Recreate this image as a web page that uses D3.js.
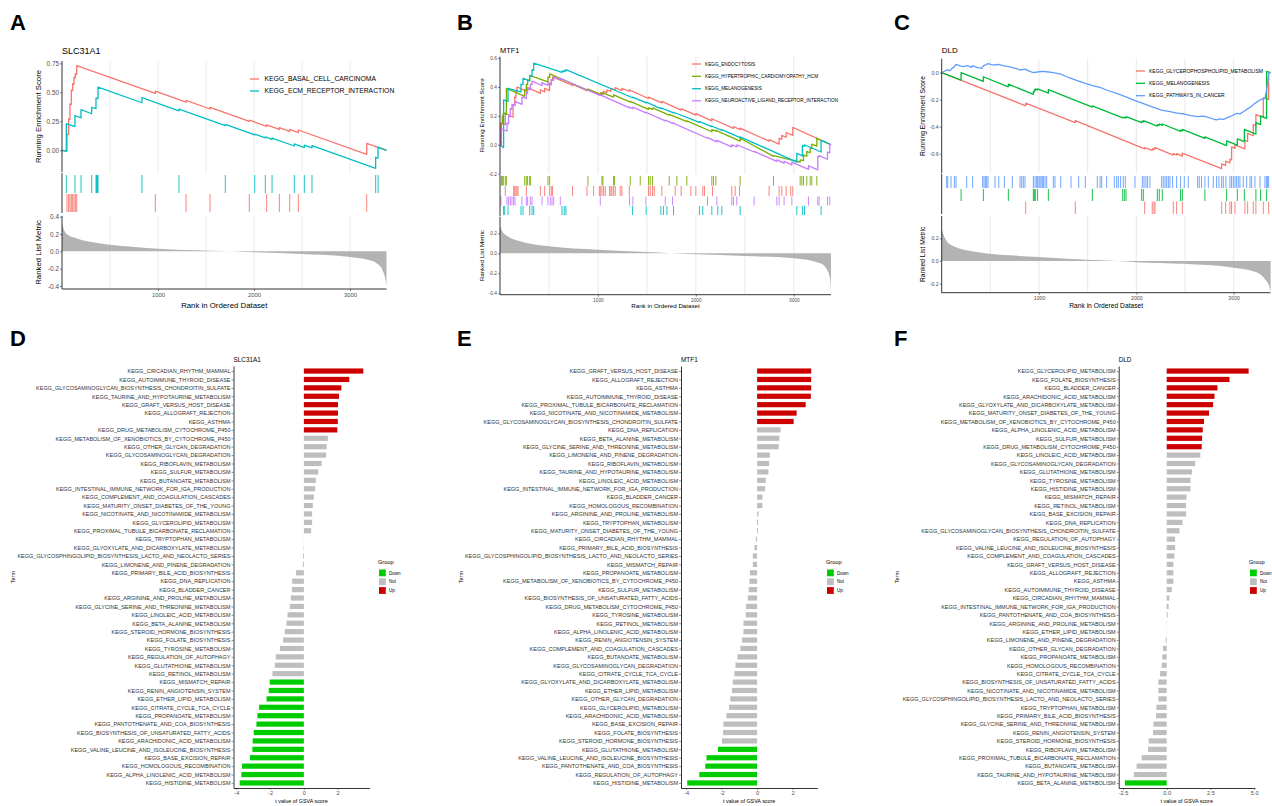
<!DOCTYPE html>
<html><head><meta charset="utf-8">
<script src="https://cdn.jsdelivr.net/npm/d3@7"></script>
<style>
body{margin:0;background:#fff;overflow:hidden}
svg{display:block}
text{font-family:"Liberation Sans",Arial,Helvetica,sans-serif}
</style></head>
<body><svg id="fig" width="1272" height="806"></svg>
<script>
// ===================== DATA =====================
const rankMax = 3380;
const rankTicks = [1000, 2000, 3000];
const gridRanks = [500, 1000, 1500, 2000, 2500, 3000];

// ---- Panel A (SLC31A1) ----
const geneA = "SLC31A1";
const setNamesA = ["KEGG_BASAL_CELL_CARCINOMA", "KEGG_ECM_RECEPTOR_INTERACTION"];
const esA_basal = [[0,0],[52,-0.005],[52,0.14],[69,0.135],[69,0.27],[83,0.265],[83,0.40],[97,0.395],[97,0.52],[111,0.515],[111,0.575],[125,0.57],[125,0.63],[139,0.625],[139,0.66],[153,0.655],[153,0.73],[972,0.49],[972,0.51],[1292,0.415],[1292,0.43],[1542,0.356],[1542,0.37],[1951,0.25],[1951,0.26],[2132,0.206],[2132,0.22],[2264,0.18],[2264,0.195],[2372,0.163],[2372,0.18],[2462,0.153],[2462,0.175],[3174,-0.035],[3174,0.06],[3380,0.0]];
const esA_ecm = [[0,0],[45,-0.01],[45,0.23],[135,0.205],[135,0.30],[198,0.28],[198,0.35],[309,0.315],[309,0.37],[354,0.36],[354,0.45],[375,0.445],[375,0.545],[833,0.41],[833,0.455],[1219,0.34],[1219,0.355],[1701,0.213],[1701,0.223],[2007,0.133],[2007,0.14],[2118,0.107],[2118,0.115],[2188,0.095],[2188,0.105],[2420,0.037],[2420,0.055],[2524,0.024],[2524,0.045],[2604,0.021],[2604,0.04],[3267,-0.155],[3267,-0.06],[3292,-0.067],[3292,0.028],[3380,0.0]];
const hitsA_basal = [52,69,83,97,111,125,139,153,972,1292,1542,1951,2132,2264,2372,2462,3174];
const hitsA_ecm = [45,135,198,309,354,360,365,370,375,833,1219,1701,2007,2118,2188,2420,2524,2604,3267,3292];
const metricA = [[1,0.32],[20,0.25],[50,0.2],[150,0.15],[400,0.09],[700,0.055],[1000,0.03],[1400,0.012],[1750,0.0],[2000,-0.01],[2500,-0.03],[3000,-0.065],[3175,-0.095],[3280,-0.14],[3340,-0.22],[3370,-0.33],[3380,-0.4]];
const esTicksA = [0, 0.25, 0.5, 0.75];
const metricTicksA = [-0.4, -0.2, 0, 0.2, 0.4];

// ---- Panel B (MTF1) ----
const geneB = "MTF1";
const setNamesB = ["KEGG_ENDOCYTOSIS", "KEGG_HYPERTROPHIC_CARDIOMYOPATHY_HCM", "KEGG_MELANOGENESIS", "KEGG_NEUROACTIVE_LIGAND_RECEPTOR_INTERACTION"];
const esB_endo = [[0,0],[10,0],[10,0.15],[54,0.14],[54,0.22],[133,0.19],[133,0.28],[150,0.275],[150,0.33],[163,0.325],[163,0.37],[173,0.365],[173,0.40],[269,0.37],[269,0.40],[412,0.355],[412,0.38],[456,0.365],[456,0.39],[507,0.375],[507,0.42],[524,0.415],[524,0.45],[537,0.445],[537,0.47],[741,0.41],[741,0.42],[888,0.375],[888,0.385],[1024,0.345],[1024,0.36],[1058,0.35],[1058,0.37],[1092,0.36],[1092,0.38],[1133,0.37],[1133,0.39],[1177,0.38],[1177,0.395],[1245,0.375],[1245,0.39],[1320,0.37],[1320,0.38],[1517,0.32],[1517,0.33],[1653,0.29],[1653,0.30],[1850,0.24],[1850,0.25],[2000,0.205],[2000,0.215],[2163,0.165],[2163,0.18],[2384,0.113],[2384,0.125],[2452,0.105],[2452,0.115],[2748,0.025],[2748,0.035],[2850,0.005],[2850,0.045],[2877,0.037],[2877,0.065],[2922,0.052],[2922,0.085],[2990,0.065],[2990,0.12],[3380,0.0]];
const esB_hcm = [[0,0],[14,0],[14,0.15],[24,0.15],[24,0.2],[34,0.2],[34,0.22],[65,0.21],[65,0.39],[252,0.335],[252,0.38],[269,0.375],[269,0.42],[282,0.415],[282,0.45],[303,0.445],[303,0.48],[490,0.435],[490,0.47],[507,0.465],[507,0.49],[898,0.375],[898,0.385],[1041,0.345],[1041,0.36],[1160,0.33],[1160,0.345],[1330,0.295],[1330,0.30],[1517,0.245],[1517,0.255],[1558,0.245],[1558,0.255],[1728,0.205],[1728,0.21],[1908,0.16],[1908,0.165],[2163,0.09],[2163,0.105],[2204,0.095],[2204,0.10],[2452,0.025],[2452,0.045],[2793,-0.08],[2793,-0.075],[3065,-0.12],[3065,-0.105],[3099,-0.11],[3099,-0.07],[3133,-0.08],[3133,-0.045],[3167,-0.055],[3167,-0.02],[3184,-0.025],[3184,0.005],[3235,-0.01],[3235,0.045],[3380,0.0]];
const esB_mela = [[0,0],[37,-0.02],[37,0.31],[82,0.30],[82,0.39],[214,0.365],[214,0.42],[235,0.415],[235,0.46],[303,0.44],[303,0.48],[327,0.475],[327,0.52],[344,0.515],[344,0.565],[633,0.50],[633,0.51],[656,0.505],[656,0.515],[673,0.51],[673,0.52],[1354,0.325],[1354,0.33],[1493,0.29],[1493,0.295],[1643,0.25],[1643,0.255],[1772,0.22],[1772,0.225],[2037,0.155],[2037,0.16],[2163,0.125],[2163,0.13],[2265,0.10],[2265,0.105],[2452,0.05],[2452,0.055],[3031,-0.12],[3031,-0.06],[3088,-0.077],[3088,-0.005],[3109,-0.011],[3109,0.0],[3279,-0.05],[3279,0.03],[3380,0.0]];
const esB_neuro = [[0,0],[10,0],[10,0.11],[71,0.095],[71,0.15],[88,0.145],[88,0.2],[105,0.195],[105,0.25],[122,0.245],[122,0.28],[153,0.27],[153,0.30],[224,0.28],[224,0.33],[269,0.32],[269,0.36],[282,0.355],[282,0.39],[309,0.38],[309,0.42],[327,0.415],[327,0.44],[429,0.41],[429,0.43],[490,0.41],[490,0.43],[524,0.42],[524,0.45],[548,0.445],[548,0.47],[616,0.45],[616,0.46],[1024,0.34],[1024,0.345],[1323,0.255],[1323,0.26],[1357,0.25],[1357,0.26],[1490,0.22],[1490,0.225],[1687,0.165],[1687,0.17],[1762,0.148],[1762,0.152],[2119,0.045],[2119,0.05],[2214,0.02],[2214,0.03],[2367,-0.015],[2367,0.0],[2418,-0.015],[2418,0.0],[2595,-0.05],[2595,-0.045],[2827,-0.115],[2827,-0.105],[2901,-0.127],[2901,-0.115],[2980,-0.14],[2980,-0.12],[3150,-0.17],[3150,-0.145],[3245,-0.173],[3245,-0.08],[3259,-0.084],[3259,-0.075],[3344,-0.1],[3344,-0.05],[3367,-0.057],[3367,0.004],[3380,0.0]];
const hitsB_endo = [54,139,150,163,173,184,269,412,456,507,524,537,741,888,956,1014,1024,1041,1058,1075,1119,1133,1143,1160,1177,1228,1245,1320,1517,1534,1558,1575,1653,1789,1850,1949,2000,2071,2088,2170,2367,2401,2446,2748,2850,2878,2922,2969,2990];
const hitsB_hcm = [14,24,34,54,65,252,269,282,303,310,490,507,898,1041,1051,1160,1170,1330,1432,1517,1534,1558,1728,1806,1908,2163,2180,2204,2452,2793,3065,3082,3099,3133,3167,3184,3235];
const hitsB_mela = [37,48,82,214,235,303,327,344,633,656,673,1354,1493,1643,1670,1704,1772,2037,2071,2163,2224,2265,2452,3031,3088,3109,3279];
const hitsB_neuro = [10,71,88,105,122,139,153,224,269,282,310,327,429,490,514,531,548,616,1024,1323,1357,1490,1687,1762,2119,2214,2367,2384,2418,2595,2827,2850,2901,2980,3150,3245,3259,3344,3367];
const metricB = [[1,0.27],[37,0.2],[207,0.12],[500,0.07],[1000,0.035],[1500,0.012],[1740,0.0],[2000,-0.01],[2500,-0.027],[3000,-0.05],[3270,-0.1],[3337,-0.16],[3370,-0.25],[3380,-0.37]];
const esTicksB = [-0.2, 0, 0.2, 0.4, 0.6];
const metricTicksB = [-0.4, -0.2, 0, 0.2];

// ---- Panel C (DLD) ----
const geneC = "DLD";
const setNamesC = ["KEGG_GLYCEROPHOSPHOLIPID_METABOLISM", "KEGG_MELANOGENESIS", "KEGG_PATHWAYS_IN_CANCER"];
const esC_glycero = [[0,0],[863,-0.245],[863,-0.225],[1373,-0.37],[1373,-0.355],[2086,-0.565],[2086,-0.555],[2164,-0.575],[2164,-0.565],[2182,-0.57],[2182,-0.56],[2192,-0.563],[2192,-0.555],[2380,-0.61],[2380,-0.6],[2414,-0.61],[2414,-0.6],[2473,-0.618],[2473,-0.595],[2877,-0.71],[2877,-0.675],[2918,-0.687],[2918,-0.655],[2962,-0.668],[2962,-0.64],[2979,-0.645],[2979,-0.55],[3014,-0.56],[3014,-0.535],[3116,-0.565],[3116,-0.5],[3144,-0.508],[3144,-0.45],[3202,-0.467],[3202,-0.385],[3229,-0.393],[3229,-0.31],[3305,-0.332],[3305,-0.185],[3360,-0.2],[3360,0.0],[3380,0.0]];
const esC_mela = [[0,0],[199,-0.055],[199,0.0],[428,-0.065],[428,-0.03],[685,-0.105],[685,-0.085],[942,-0.16],[942,-0.14],[952,-0.143],[952,-0.128],[962,-0.131],[962,-0.12],[986,-0.127],[986,-0.12],[1096,-0.152],[1096,-0.125],[1548,-0.255],[1548,-0.245],[1860,-0.335],[1860,-0.33],[1877,-0.335],[1877,-0.33],[1894,-0.335],[1894,-0.325],[2055,-0.37],[2055,-0.36],[2072,-0.365],[2072,-0.355],[2216,-0.395],[2216,-0.385],[2236,-0.39],[2236,-0.38],[2267,-0.39],[2267,-0.38],[2455,-0.435],[2455,-0.425],[2473,-0.43],[2473,-0.42],[2705,-0.487],[2705,-0.475],[2928,-0.54],[2928,-0.505],[3038,-0.537],[3038,-0.49],[3110,-0.51],[3110,-0.42],[3229,-0.455],[3229,-0.37],[3277,-0.384],[3277,-0.32],[3339,-0.338],[3339,0.01],[3380,0.0]];
const esC_cancer = [[0,0],[51,0.02],[86,0.015],[103,0.03],[130,0.045],[147,0.062],[190,0.05],[223,0.045],[257,0.052],[290,0.045],[308,0.04],[318,0.052],[360,0.04],[411,0.032],[428,0.05],[450,0.058],[476,0.068],[510,0.06],[548,0.057],[586,0.062],[620,0.055],[644,0.05],[690,0.045],[726,0.037],[770,0.03],[805,0.02],[856,0.027],[900,0.012],[942,0.0],[1000,0.007],[1040,0.01],[1079,0.007],[1147,0.0],[1223,-0.01],[1280,-0.028],[1329,-0.042],[1400,-0.06],[1476,-0.079],[1550,-0.095],[1627,-0.109],[1700,-0.13],[1798,-0.153],[1887,-0.178],[1986,-0.207],[2060,-0.225],[2140,-0.247],[2200,-0.262],[2260,-0.277],[2346,-0.289],[2420,-0.3],[2493,-0.306],[2560,-0.318],[2630,-0.326],[2690,-0.322],[2740,-0.331],[2790,-0.343],[2825,-0.35],[2860,-0.342],[2894,-0.346],[2962,-0.326],[3031,-0.301],[3065,-0.305],[3099,-0.289],[3168,-0.257],[3219,-0.227],[3271,-0.202],[3322,-0.19],[3339,-0.128],[3349,-0.079],[3360,0.0],[3380,0.0]];
const hitsC_glycero = [863,1373,2086,2164,2182,2192,2380,2414,2473,2877,2918,2962,2979,3014,3116,3144,3202,3229,3305,3360];
const hitsC_mela = [199,428,685,942,952,962,986,1096,1548,1860,1877,1894,2055,2072,2216,2236,2267,2455,2473,2705,2928,3038,3110,3229,3277,3339];
const hitsC_cancer = [51,62,96,130,147,257,318,421,435,449,462,476,548,586,644,726,805,822,839,856,942,959,976,986,1000,1010,1021,1034,1045,1062,1079,1147,1164,1223,1329,1408,1476,1599,1627,1644,1695,1774,1798,1815,1839,1866,1887,1986,2062,2079,2099,2116,2140,2260,2277,2295,2312,2329,2346,2373,2414,2455,2493,2534,2630,2647,2671,2705,2740,2791,2825,2849,2877,2894,2921,2962,2979,2997,3014,3031,3048,3065,3099,3134,3168,3185,3219,3271,3322,3339,3349,3360];
const metricC = [[1,0.28],[34,0.2],[120,0.13],[360,0.08],[1000,0.035],[1490,0.01],[1800,0.0],[2000,-0.01],[2483,-0.025],[3000,-0.06],[3236,-0.1],[3322,-0.16],[3365,-0.22],[3380,-0.27]];
const esTicksC = [-0.6, -0.4, -0.2, 0];
const metricTicksC = [-0.2, 0, 0.2];

// ---- Panels D/E/F (GSVA t values) ----
const groupLevels = ["Down", "Not", "Up"];

const termsD = ["KEGG_CIRCADIAN_RHYTHM_MAMMAL","KEGG_AUTOIMMUNE_THYROID_DISEASE","KEGG_GLYCOSAMINOGLYCAN_BIOSYNTHESIS_CHONDROITIN_SULFATE","KEGG_TAURINE_AND_HYPOTAURINE_METABOLISM","KEGG_GRAFT_VERSUS_HOST_DISEASE","KEGG_ALLOGRAFT_REJECTION","KEGG_ASTHMA","KEGG_DRUG_METABOLISM_CYTOCHROME_P450","KEGG_METABOLISM_OF_XENOBIOTICS_BY_CYTOCHROME_P450","KEGG_OTHER_GLYCAN_DEGRADATION","KEGG_GLYCOSAMINOGLYCAN_DEGRADATION","KEGG_RIBOFLAVIN_METABOLISM","KEGG_SULFUR_METABOLISM","KEGG_BUTANOATE_METABOLISM","KEGG_INTESTINAL_IMMUNE_NETWORK_FOR_IGA_PRODUCTION","KEGG_COMPLEMENT_AND_COAGULATION_CASCADES","KEGG_MATURITY_ONSET_DIABETES_OF_THE_YOUNG","KEGG_NICOTINATE_AND_NICOTINAMIDE_METABOLISM","KEGG_GLYCEROLIPID_METABOLISM","KEGG_PROXIMAL_TUBULE_BICARBONATE_RECLAMATION","KEGG_TRYPTOPHAN_METABOLISM","KEGG_GLYOXYLATE_AND_DICARBOXYLATE_METABOLISM","KEGG_GLYCOSPHINGOLIPID_BIOSYNTHESIS_LACTO_AND_NEOLACTO_SERIES","KEGG_LIMONENE_AND_PINENE_DEGRADATION","KEGG_PRIMARY_BILE_ACID_BIOSYNTHESIS","KEGG_DNA_REPLICATION","KEGG_BLADDER_CANCER","KEGG_ARGININE_AND_PROLINE_METABOLISM","KEGG_GLYCINE_SERINE_AND_THREONINE_METABOLISM","KEGG_LINOLEIC_ACID_METABOLISM","KEGG_BETA_ALANINE_METABOLISM","KEGG_STEROID_HORMONE_BIOSYNTHESIS","KEGG_FOLATE_BIOSYNTHESIS","KEGG_TYROSINE_METABOLISM","KEGG_REGULATION_OF_AUTOPHAGY","KEGG_GLUTATHIONE_METABOLISM","KEGG_RETINOL_METABOLISM","KEGG_MISMATCH_REPAIR","KEGG_RENIN_ANGIOTENSIN_SYSTEM","KEGG_ETHER_LIPID_METABOLISM","KEGG_CITRATE_CYCLE_TCA_CYCLE","KEGG_PROPANOATE_METABOLISM","KEGG_PANTOTHENATE_AND_COA_BIOSYNTHESIS","KEGG_BIOSYNTHESIS_OF_UNSATURATED_FATTY_ACIDS","KEGG_ARACHIDONIC_ACID_METABOLISM","KEGG_VALINE_LEUCINE_AND_ISOLEUCINE_BIOSYNTHESIS","KEGG_BASE_EXCISION_REPAIR","KEGG_HOMOLOGOUS_RECOMBINATION","KEGG_ALPHA_LINOLENIC_ACID_METABOLISM","KEGG_HISTIDINE_METABOLISM"];
const tD = [3.52,2.69,2.22,2.08,2.02,2.02,2.01,1.98,1.42,1.35,1.31,1.05,0.85,0.71,0.67,0.59,0.53,0.49,0.49,0.43,0.01,-0.02,-0.05,-0.06,-0.47,-0.69,-0.71,-0.77,-0.83,-0.97,-1.03,-1.13,-1.23,-1.42,-1.66,-1.72,-1.86,-2.02,-2.08,-2.21,-2.65,-2.75,-2.81,-2.97,-3.03,-3.05,-3.19,-3.66,-3.70,-3.80];
const groupD = ["Up","Up","Up","Up","Up","Up","Up","Up","Not","Not","Not","Not","Not","Not","Not","Not","Not","Not","Not","Not","Not","Not","Not","Not","Not","Not","Not","Not","Not","Not","Not","Not","Not","Not","Not","Not","Not","Down","Down","Down","Down","Down","Down","Down","Down","Down","Down","Down","Down","Down"];
const ticksD = [-4, -2, 0, 2];

const termsE = ["KEGG_GRAFT_VERSUS_HOST_DISEASE","KEGG_ALLOGRAFT_REJECTION","KEGG_ASTHMA","KEGG_AUTOIMMUNE_THYROID_DISEASE","KEGG_PROXIMAL_TUBULE_BICARBONATE_RECLAMATION","KEGG_NICOTINATE_AND_NICOTINAMIDE_METABOLISM","KEGG_GLYCOSAMINOGLYCAN_BIOSYNTHESIS_CHONDROITIN_SULFATE","KEGG_DNA_REPLICATION","KEGG_BETA_ALANINE_METABOLISM","KEGG_GLYCINE_SERINE_AND_THREONINE_METABOLISM","KEGG_LIMONENE_AND_PINENE_DEGRADATION","KEGG_RIBOFLAVIN_METABOLISM","KEGG_TAURINE_AND_HYPOTAURINE_METABOLISM","KEGG_LINOLEIC_ACID_METABOLISM","KEGG_INTESTINAL_IMMUNE_NETWORK_FOR_IGA_PRODUCTION","KEGG_BLADDER_CANCER","KEGG_HOMOLOGOUS_RECOMBINATION","KEGG_ARGININE_AND_PROLINE_METABOLISM","KEGG_TRYPTOPHAN_METABOLISM","KEGG_MATURITY_ONSET_DIABETES_OF_THE_YOUNG","KEGG_CIRCADIAN_RHYTHM_MAMMAL","KEGG_PRIMARY_BILE_ACID_BIOSYNTHESIS","KEGG_GLYCOSPHINGOLIPID_BIOSYNTHESIS_LACTO_AND_NEOLACTO_SERIES","KEGG_MISMATCH_REPAIR","KEGG_PROPANOATE_METABOLISM","KEGG_METABOLISM_OF_XENOBIOTICS_BY_CYTOCHROME_P450","KEGG_SULFUR_METABOLISM","KEGG_BIOSYNTHESIS_OF_UNSATURATED_FATTY_ACIDS","KEGG_DRUG_METABOLISM_CYTOCHROME_P450","KEGG_TYROSINE_METABOLISM","KEGG_RETINOL_METABOLISM","KEGG_ALPHA_LINOLENIC_ACID_METABOLISM","KEGG_RENIN_ANGIOTENSIN_SYSTEM","KEGG_COMPLEMENT_AND_COAGULATION_CASCADES","KEGG_BUTANOATE_METABOLISM","KEGG_GLYCOSAMINOGLYCAN_DEGRADATION","KEGG_CITRATE_CYCLE_TCA_CYCLE","KEGG_GLYOXYLATE_AND_DICARBOXYLATE_METABOLISM","KEGG_ETHER_LIPID_METABOLISM","KEGG_OTHER_GLYCAN_DEGRADATION","KEGG_GLYCEROLIPID_METABOLISM","KEGG_ARACHIDONIC_ACID_METABOLISM","KEGG_BASE_EXCISION_REPAIR","KEGG_FOLATE_BIOSYNTHESIS","KEGG_STEROID_HORMONE_BIOSYNTHESIS","KEGG_GLUTATHIONE_METABOLISM","KEGG_VALINE_LEUCINE_AND_ISOLEUCINE_BIOSYNTHESIS","KEGG_PANTOTHENATE_AND_COA_BIOSYNTHESIS","KEGG_REGULATION_OF_AUTOPHAGY","KEGG_HISTIDINE_METABOLISM"];
const tE = [3.05,3.05,3.05,3.03,2.74,2.23,2.06,1.32,1.26,1.22,0.72,0.68,0.64,0.49,0.45,0.30,0.30,0.08,0.06,0.05,-0.07,-0.15,-0.24,-0.24,-0.41,-0.43,-0.47,-0.53,-0.62,-0.64,-0.77,-0.77,-0.85,-0.94,-1.11,-1.22,-1.28,-1.37,-1.41,-1.51,-1.58,-1.73,-1.90,-1.92,-1.98,-2.21,-2.85,-2.92,-3.26,-3.94];
const groupE = ["Up","Up","Up","Up","Up","Up","Up","Not","Not","Not","Not","Not","Not","Not","Not","Not","Not","Not","Not","Not","Not","Not","Not","Not","Not","Not","Not","Not","Not","Not","Not","Not","Not","Not","Not","Not","Not","Not","Not","Not","Not","Not","Not","Not","Not","Down","Down","Down","Down","Down"];
const ticksE = [-4, -2, 0, 2];

const termsF = ["KEGG_GLYCEROLIPID_METABOLISM","KEGG_FOLATE_BIOSYNTHESIS","KEGG_BLADDER_CANCER","KEGG_ARACHIDONIC_ACID_METABOLISM","KEGG_GLYOXYLATE_AND_DICARBOXYLATE_METABOLISM","KEGG_MATURITY_ONSET_DIABETES_OF_THE_YOUNG","KEGG_METABOLISM_OF_XENOBIOTICS_BY_CYTOCHROME_P450","KEGG_ALPHA_LINOLENIC_ACID_METABOLISM","KEGG_SULFUR_METABOLISM","KEGG_DRUG_METABOLISM_CYTOCHROME_P450","KEGG_LINOLEIC_ACID_METABOLISM","KEGG_GLYCOSAMINOGLYCAN_DEGRADATION","KEGG_GLUTATHIONE_METABOLISM","KEGG_TYROSINE_METABOLISM","KEGG_HISTIDINE_METABOLISM","KEGG_MISMATCH_REPAIR","KEGG_RETINOL_METABOLISM","KEGG_BASE_EXCISION_REPAIR","KEGG_DNA_REPLICATION","KEGG_GLYCOSAMINOGLYCAN_BIOSYNTHESIS_CHONDROITIN_SULFATE","KEGG_REGULATION_OF_AUTOPHAGY","KEGG_VALINE_LEUCINE_AND_ISOLEUCINE_BIOSYNTHESIS","KEGG_COMPLEMENT_AND_COAGULATION_CASCADES","KEGG_GRAFT_VERSUS_HOST_DISEASE","KEGG_ALLOGRAFT_REJECTION","KEGG_ASTHMA","KEGG_AUTOIMMUNE_THYROID_DISEASE","KEGG_CIRCADIAN_RHYTHM_MAMMAL","KEGG_INTESTINAL_IMMUNE_NETWORK_FOR_IGA_PRODUCTION","KEGG_PANTOTHENATE_AND_COA_BIOSYNTHESIS","KEGG_ARGININE_AND_PROLINE_METABOLISM","KEGG_ETHER_LIPID_METABOLISM","KEGG_LIMONENE_AND_PINENE_DEGRADATION","KEGG_OTHER_GLYCAN_DEGRADATION","KEGG_PROPANOATE_METABOLISM","KEGG_HOMOLOGOUS_RECOMBINATION","KEGG_CITRATE_CYCLE_TCA_CYCLE","KEGG_BIOSYNTHESIS_OF_UNSATURATED_FATTY_ACIDS","KEGG_NICOTINATE_AND_NICOTINAMIDE_METABOLISM","KEGG_GLYCOSPHINGOLIPID_BIOSYNTHESIS_LACTO_AND_NEOLACTO_SERIES","KEGG_TRYPTOPHAN_METABOLISM","KEGG_PRIMARY_BILE_ACID_BIOSYNTHESIS","KEGG_GLYCINE_SERINE_AND_THREONINE_METABOLISM","KEGG_RENIN_ANGIOTENSIN_SYSTEM","KEGG_STEROID_HORMONE_BIOSYNTHESIS","KEGG_RIBOFLAVIN_METABOLISM","KEGG_PROXIMAL_TUBULE_BICARBONATE_RECLAMATION","KEGG_BUTANOATE_METABOLISM","KEGG_TAURINE_AND_HYPOTAURINE_METABOLISM","KEGG_BETA_ALANINE_METABOLISM"];
const tF = [4.68,3.59,2.90,2.73,2.65,2.42,2.13,2.06,2.02,2.00,1.92,1.63,1.44,1.36,1.36,1.13,1.11,1.11,0.90,0.73,0.48,0.48,0.44,0.38,0.38,0.38,0.29,0.15,0.11,0.06,0.01,-0.01,-0.06,-0.21,-0.25,-0.29,-0.38,-0.48,-0.48,-0.48,-0.59,-0.61,-0.76,-0.78,-1.03,-1.07,-1.43,-1.72,-1.88,-2.39];
const groupF = ["Up","Up","Up","Up","Up","Up","Up","Up","Up","Up","Not","Not","Not","Not","Not","Not","Not","Not","Not","Not","Not","Not","Not","Not","Not","Not","Not","Not","Not","Not","Not","Not","Not","Not","Not","Not","Not","Not","Not","Not","Not","Not","Not","Not","Not","Not","Not","Not","Not","Down"];
const ticksF = [-2.5, 0, 2.5, 5];

// ===================== DRAWING =====================
const svg = d3.select("#fig");
const hy = s => s.replace(/\u2212/g, "-");
const AXC = "#4D4D4D";

function panelLetter(t, x, y) {
  svg.append("text").attr("x", x).attr("y", y).text(t)
    .attr("font-size", 22).attr("font-weight", "bold").attr("fill", "#000");
}

function gsea(c) {
  const g = svg.append("g");
  const x = d3.scaleLinear().domain([0, rankMax]).range([c.x0, c.x1]);
  const yE = d3.scaleLinear().domain(c.esRef).range(c.esPx);
  const yM = d3.scaleLinear().domain(c.mRef).range(c.mPx);

  [[c.esTop, c.esBot], [c.mTop, c.mBot]].forEach(([t, b]) => {
    g.append("g").selectAll("line").data(gridRanks).join("line")
      .attr("x1", d => x(d)).attr("x2", d => x(d)).attr("y1", t).attr("y2", b)
      .attr("stroke", "#EBEBEB").attr("stroke-width", 1.1);
  });

  g.append("path").datum(c.metric)
    .attr("d", d3.area().x(d => x(d[0])).y0(yM(0)).y1(d => yM(d[1])).curve(d3.curveMonotoneX))
    .attr("fill", "#B3B3B3");

  c.sets.forEach(s => {
    g.append("g").selectAll("line").data(s.hits).join("line")
      .attr("x1", d => x(d)).attr("x2", d => x(d))
      .attr("y1", s.row[0]).attr("y2", s.row[1])
      .attr("stroke", s.color).attr("stroke-width", 0.9);
  });

  c.sets.forEach(s => {
    g.append("path").datum(s.es)
      .attr("d", d3.line().x(d => x(d[0])).y(d => yE(d[1])))
      .attr("fill", "none").attr("stroke", s.color).attr("stroke-width", 1.3)
      .attr("stroke-linejoin", "round");
  });

  const ln = (x1, y1, x2, y2) => g.append("line").attr("x1", x1).attr("y1", y1).attr("x2", x2).attr("y2", y2)
    .attr("stroke", "#000").attr("stroke-width", 0.8);
  ln(c.x0, c.esTop, c.x0, c.esBot);
  ln(c.x0, c.hitTop, c.x0, c.hitBot);
  ln(c.x0, c.mTop, c.x0, c.mBot);
  ln(c.x0, c.mBot, c.x1, c.mBot);

  const styleAxis = (sel, fs) => {
    sel.select(".domain").remove();
    sel.selectAll("text").attr("font-size", fs).attr("fill", AXC).attr("font-family", '"Liberation Sans",Arial,sans-serif');
    sel.selectAll("line").attr("stroke", "#333").attr("stroke-width", 0.6);
  };
  g.append("g").attr("transform", `translate(${c.x0},0)`)
    .call(d3.axisLeft(yE).tickValues(c.esTicks).tickFormat(d => hy(d3.format(c.esFmt)(d))).tickSize(2).tickPadding(1))
    .call(s => styleAxis(s, c.tickFs));
  g.append("g").attr("transform", `translate(${c.x0},0)`)
    .call(d3.axisLeft(yM).tickValues(c.mTicks).tickFormat(d => hy(d3.format(".1f")(d))).tickSize(2).tickPadding(1))
    .call(s => styleAxis(s, c.tickFs));
  g.append("g").attr("transform", `translate(0,${c.mBot})`)
    .call(d3.axisBottom(x).tickValues(rankTicks).tickFormat(d3.format("d")).tickSize(2).tickPadding(1.5))
    .call(s => styleAxis(s, c.xTickFs));

  g.append("text").attr("x", c.x0).attr("y", c.titleY).text(c.title).attr("font-size", c.titleFs).attr("fill", "#000");
  g.append("text").attr("transform", `translate(${c.yLabX},${(c.esTop + c.esBot) / 2}) rotate(-90)`)
    .attr("text-anchor", "middle").attr("font-size", c.labFs).attr("fill", "#000").text("Running Enrichment Score");
  g.append("text").attr("transform", `translate(${c.yLabX},${(c.mTop + c.mBot) / 2}) rotate(-90)`)
    .attr("text-anchor", "middle").attr("font-size", c.labFs).attr("fill", "#000").text("Ranked List Metric");
  g.append("text").attr("x", (c.x0 + c.x1) / 2).attr("y", c.xLabY).attr("text-anchor", "middle")
    .attr("font-size", c.labFs).attr("fill", "#000").text("Rank in Ordered Dataset");

  c.sets.forEach((s, i) => {
    const yy = c.leg.y[i];
    g.append("line").attr("x1", c.leg.lx0).attr("x2", c.leg.lx1).attr("y1", yy).attr("y2", yy)
      .attr("stroke", s.color).attr("stroke-width", 1.3);
    g.append("text").attr("x", c.leg.tx).attr("y", yy).attr("dy", "0.35em")
      .attr("font-size", c.leg.fs).attr("fill", "#000").text(s.name);
  });
}

const colUp = "#CD0000", colNot = "#BEBEBE", colDown = "#00CD00";
const groupColor = d3.scaleOrdinal().domain(groupLevels).range([colDown, colNot, colUp]);

function barPanel(c) {
  const g = svg.append("g");
  const ext = d3.extent(c.vals);
  const pad = (ext[1] - ext[0]) * 0.05;
  const x = d3.scaleLinear().domain([ext[0] - pad, ext[1] + pad]).range([c.x0, c.x1]);
  const y = d3.scalePoint().domain(c.terms).range([366, 788]).padding(0.6);
  const bh = 5.2;
  g.append("g").selectAll("rect").data(c.terms).join("rect")
    .attr("x", (d, i) => x(Math.min(0, c.vals[i])))
    .attr("width", (d, i) => Math.abs(x(c.vals[i]) - x(0)))
    .attr("y", d => y(d) - bh / 2).attr("height", bh)
    .attr("fill", (d, i) => groupColor(c.groups[i]));

  const ya = g.append("g").attr("transform", `translate(${c.x0},0)`)
    .call(d3.axisLeft(y).tickSize(2).tickPadding(1).tickSizeOuter(0));
  ya.select(".domain").attr("stroke", "#000").attr("stroke-width", 0.8);
  ya.selectAll(".tick line").attr("stroke", "#333").attr("stroke-width", 0.5);
  ya.selectAll("text").attr("font-size", 5.5).attr("fill", "#333").attr("font-family", '"Liberation Sans",Arial,sans-serif');

  const xa = g.append("g").attr("transform", `translate(0,788)`)
    .call(d3.axisBottom(x).tickValues(c.ticks).tickFormat(c.fmt).tickSize(2).tickPadding(1.5).tickSizeOuter(0));
  xa.select(".domain").attr("stroke", "#000").attr("stroke-width", 0.8);
  xa.selectAll(".tick line").attr("stroke", "#333").attr("stroke-width", 0.5);
  xa.selectAll("text").attr("font-size", 5.6).attr("fill", AXC).attr("font-family", '"Liberation Sans",Arial,sans-serif');

  g.append("text").attr("x", c.x0).attr("y", 362).attr("font-size", 6.4).attr("fill", "#000").text(c.title);
  g.append("text").attr("x", (c.x0 + c.x1) / 2).attr("y", 803).attr("text-anchor", "middle")
    .attr("font-size", 5.4).attr("fill", "#000").text("t value of GSVA score");
  g.append("text").attr("transform", `translate(${c.termX},577) rotate(-90)`).attr("text-anchor", "middle")
    .attr("font-size", 5.6).attr("fill", "#000").text("Term");

  g.append("text").attr("x", c.legX).attr("y", 564).attr("font-size", 5.6).attr("fill", "#000").text("Group");
  groupLevels.forEach((lv, i) => {
    g.append("rect").attr("x", c.legX + 1).attr("y", 569.5 + i * 8.8).attr("width", 6.8).attr("height", 6.8)
      .attr("fill", groupColor(lv));
    g.append("text").attr("x", c.legX + 11).attr("y", 573 + i * 8.8).attr("dy", "0.35em")
      .attr("font-size", 4.5).attr("fill", "#000").text(lv);
  });
}

panelLetter("A", 10, 30); panelLetter("B", 457, 30); panelLetter("C", 894, 30);
panelLetter("D", 10, 346); panelLetter("E", 457, 346); panelLetter("F", 894, 346);

gsea({
  x0: 62, x1: 386.5, title: geneA, titleY: 54, titleFs: 9,
  esRef: [0, 0.75], esPx: [150.3, 63.3], esTop: 61, esBot: 172,
  hitTop: 173, hitBot: 213,
  mRef: [-0.4, 0.4], mPx: [286, 216.7], mTop: 216, mBot: 289,
  esTicks: esTicksA, esFmt: ".2f", mTicks: metricTicksA, tickFs: 6.4, xTickFs: 5.8,
  yLabX: 41, xLabY: 308, labFs: 7.8, metric: metricA,
  sets: [
    { name: setNamesA[0], color: "#F8766D", es: esA_basal, hits: hitsA_basal, row: [194, 212] },
    { name: setNamesA[1], color: "#00BFC4", es: esA_ecm, hits: hitsA_ecm, row: [175, 193] }
  ],
  leg: { lx0: 250, lx1: 259, tx: 264.5, y: [79, 91], fs: 6.8 }
});

gsea({
  x0: 500, x1: 831, title: geneB, titleY: 52.5, titleFs: 7.4,
  esRef: [-0.2, 0.6], esPx: [173.7, 58], esTop: 56.7, esBot: 174,
  hitTop: 174.5, hitBot: 216,
  mRef: [-0.4, 0.2], mPx: [293.3, 233.3], mTop: 216.7, mBot: 294.7,
  esTicks: esTicksB, esFmt: ".1f", mTicks: metricTicksB, tickFs: 4.8, xTickFs: 4.8,
  yLabX: 484, xLabY: 308, labFs: 6.2, metric: metricB,
  sets: [
    { name: setNamesB[0], color: "#F8766D", es: esB_endo, hits: hitsB_endo, row: [186, 196] },
    { name: setNamesB[1], color: "#7CAE00", es: esB_hcm, hits: hitsB_hcm, row: [176, 185.5] },
    { name: setNamesB[2], color: "#00BFC4", es: esB_mela, hits: hitsB_mela, row: [206, 215] },
    { name: setNamesB[3], color: "#C77CFF", es: esB_neuro, hits: hitsB_neuro, row: [196.5, 205.5] }
  ],
  leg: { lx0: 692, lx1: 701, tx: 705, y: [64, 76.3, 88.7, 100.8], fs: 4.7 }
});

gsea({
  x0: 941.7, x1: 1270.6, title: geneC, titleY: 52.5, titleFs: 8,
  esRef: [-0.6, 0], esPx: [153.7, 72.7], esTop: 58.7, esBot: 173.3,
  hitTop: 174, hitBot: 214,
  mRef: [-0.2, 0.2], mPx: [283.7, 238.3], mTop: 216, mBot: 292.7,
  esTicks: esTicksC, esFmt: ".1f", mTicks: metricTicksC, tickFs: 5.2, xTickFs: 5.2,
  yLabX: 925, xLabY: 307.5, labFs: 6.7, metric: metricC,
  sets: [
    { name: setNamesC[0], color: "#F8766D", es: esC_glycero, hits: hitsC_glycero, row: [201.5, 214] },
    { name: setNamesC[1], color: "#00BA38", es: esC_mela, hits: hitsC_mela, row: [189, 201] },
    { name: setNamesC[2], color: "#619CFF", es: esC_cancer, hits: hitsC_cancer, row: [176, 188] }
  ],
  leg: { lx0: 1136, lx1: 1145, tx: 1149, y: [71, 83.3, 95.7], fs: 5.0 }
});

const intFmt = d => String(d);
const decFmt = d => hy(d3.format(".1f")(d));
barPanel({ x0: 233.5, x1: 369.5, terms: termsD, vals: tD, groups: groupD, ticks: ticksD, fmt: intFmt, title: "SLC31A1", termX: 15, legX: 378 });
barPanel({ x0: 681, x1: 817.4, terms: termsE, vals: tE, groups: groupE, ticks: ticksE, fmt: intFmt, title: "MTF1", termX: 463, legX: 826 });
barPanel({ x0: 1118.7, x1: 1254.8, terms: termsF, vals: tF, groups: groupF, ticks: ticksF, fmt: decFmt, title: "DLD", termX: 899, legX: 1249 });
</script>
</body></html>
